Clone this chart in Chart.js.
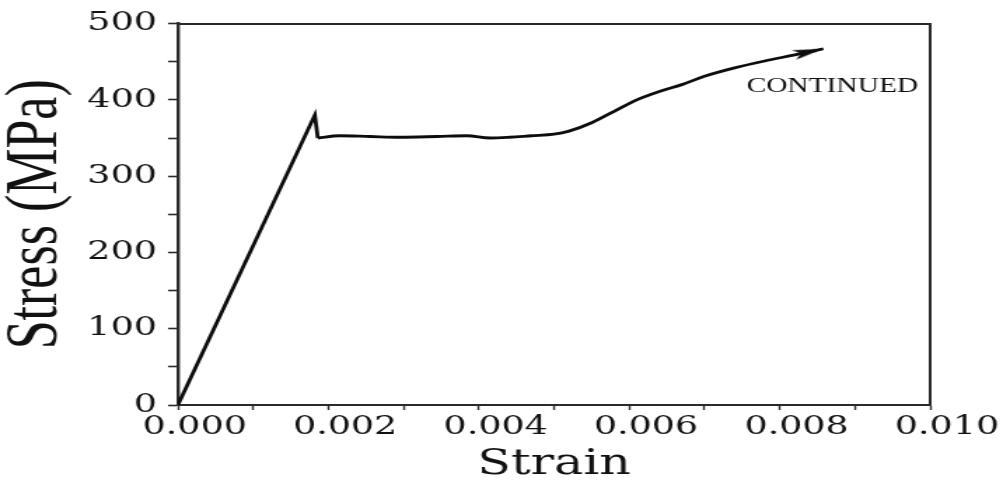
<!DOCTYPE html>
<html>
<head>
<meta charset="utf-8">
<title>Stress - Strain</title>
<script src="https://cdn.jsdelivr.net/npm/chart.js@4.4.1/dist/chart.umd.min.js"></script>
<style>
	html, body { margin: 0; padding: 0; background: #fff; }
	#stressChart { display: block; }
</style>
</head>
<body>
<canvas id="stressChart" width="716" height="484"></canvas>
<script>
// values
const strain = [0, 0.00182, 0.00186, 0.00215, 0.00255, 0.00295, 0.00345, 0.00384, 0.00415, 0.00441,
	0.0047, 0.0050, 0.0052, 0.0055, 0.0058, 0.0061, 0.0064, 0.0067, 0.0070, 0.0074, 0.0078, 0.0082, 0.00858];
const stress = [0, 380, 350, 353, 352, 351, 352, 353, 350, 351,
	353, 355, 359, 370, 385, 400, 411, 420, 431, 442, 451, 459, 467];
const xTickLabels = ['0.000', '0.002', '0.004', '0.006', '0.008', '0.010'];
const yTickLabels = ['0', '100', '200', '300', '400', '500'];
const noteText = 'CONTINUED';
const noteStrain = 0.0087;
const noteStress = 418;

const axisColor = '#2a2a2a';
const textColor = '#111';
const lineColor = '#0d0d0d';

//the picture is stretched sideways, so draw narrow and widen the canvas after
const fullWidth = 1003;
const fullHeight = 484;

//straight part up to the drop, smooth curve after it
const yieldIndex = 2;
const last = strain.length - 1;

function toPoints(from, to) {
	const pts = [];
	for (let i = from; i <= to; i++) {
		pts.push({ x: strain[i], y: stress[i] });
	}
	return pts;
}

//filled arrow head, tip sits at the centre of the image
function makeArrowHead(len, half) {
	const c = document.createElement('canvas');
	c.width = len * 2;
	c.height = half * 2;
	const g = c.getContext('2d');
	g.fillStyle = lineColor;
	g.beginPath();
	g.moveTo(0, 0);
	g.lineTo(len, half);
	g.lineTo(0, half * 2);
	g.lineTo(len * 0.25, half);
	g.closePath();
	g.fill();
	return c;
}
const arrowHead = makeArrowHead(22, 5);

const notePlugin = {
	id: 'note',
	afterDatasetsDraw(chart) {
		const ctx = chart.ctx;
		ctx.save();
		ctx.font = '21px "Liberation Serif", serif';
		ctx.fillStyle = textColor;
		ctx.textAlign = 'center';
		ctx.textBaseline = 'middle';
		ctx.fillText(noteText, chart.scales.x.getPixelForValue(noteStrain), chart.scales.y.getPixelForValue(noteStress));
		ctx.restore();
	}
};

function createStressChart() {
	const canvas = document.getElementById('stressChart');
	const ctx = canvas.getContext('2d');
	const curve = toPoints(yieldIndex, last);

	new Chart(ctx, {
		type: 'line',
		data: {
			datasets: [
				{
					data: toPoints(0, yieldIndex),
					borderColor: lineColor,
					borderWidth: 2.8,
					fill: false,
					tension: 0,
					pointRadius: 0,
				},
				{
					data: curve,
					borderColor: lineColor,
					borderWidth: 2.8,
					fill: false,
					cubicInterpolationMode: 'monotone',
					pointRadius: curve.map((p, i) => (i === curve.length - 1 ? 10 : 0)),
					pointStyle: curve.map((p, i) => (i === curve.length - 1 ? arrowHead : 'circle')),
					pointRotation: (c) => {
						if (c.dataIndex !== curve.length - 1) return 0;
						const sx = c.chart.scales.x;
						const sy = c.chart.scales.y;
						const dx = sx.getPixelForValue(strain[last]) - sx.getPixelForValue(strain[last - 1]);
						const dy = sy.getPixelForValue(stress[last]) - sy.getPixelForValue(stress[last - 1]);
						return Math.atan2(dy, dx) * 180 / Math.PI;
					},
				},
			],
		},
		options: {
			responsive: false,
			animation: false,
			layout: {
				padding: { left: 0, right: 52, top: 16, bottom: 0 },
			},
			plugins: {
				legend: { display: false },
				tooltip: { enabled: false },
			},
			scales: {
				x: {
					type: 'linear',
					position: 'bottom',
					min: 0,
					max: 0.01,
					grid: {
						drawOnChartArea: false,
						drawTicks: true,
						tickLength: 5,
						tickWidth: 1.4,
						tickColor: axisColor,
					},
					border: { display: true, color: axisColor, width: 2 },
					ticks: {
						stepSize: 0.001,
						autoSkip: false,
						maxRotation: 0,
						padding: 2,
						labelOffset: 12,
						color: textColor,
						font: { family: '"DejaVu Serif", serif', size: 26 },
						callback: (v) => {
							const i = Math.round(v * 1000);
							return i % 2 === 0 ? xTickLabels[i / 2] : '';
						},
					},
					title: {
						display: true,
						text: 'Strain',
						color: textColor,
						font: { family: '"DejaVu Serif", serif', size: 35, lineHeight: 1 },
						padding: { top: 0, bottom: 2 },
					},
					afterFit: (s) => { s.height = 79; },
				},
				y: {
					type: 'linear',
					position: 'left',
					min: 0,
					max: 500,
					grid: {
						drawOnChartArea: false,
						drawTicks: true,
						tickLength: 7,
						tickWidth: 1.6,
						tickColor: axisColor,
					},
					border: { display: true, color: axisColor, width: 2.4 },
					ticks: {
						stepSize: 50,
						autoSkip: false,
						padding: 8,
						color: textColor,
						font: { family: '"DejaVu Serif", serif', size: 26 },
						callback: (v) => {
							const i = Math.round(v / 50);
							return i % 2 === 0 ? yTickLabels[i / 2] : '';
						},
					},
					title: {
						display: true,
						text: 'Stress (MPa)',
						color: textColor,
						font: { family: '"Liberation Serif", serif', size: 52, lineHeight: 1 },
						padding: { top: 0, bottom: 0 },
					},
					afterFit: (s) => { s.width = 127; },
				},
				//top and right edges of the frame
				xTop: {
					type: 'linear',
					position: 'top',
					min: 0,
					max: 0.01,
					grid: { display: false },
					ticks: { display: false },
					border: { display: true, color: axisColor, width: 2 },
					afterFit: (s) => { s.height = 0; },
				},
				yRight: {
					type: 'linear',
					position: 'right',
					min: 0,
					max: 500,
					grid: { display: false },
					ticks: { display: false },
					border: { display: true, color: axisColor, width: 2 },
					afterFit: (s) => { s.width = 0; },
				},
			},
		},
		plugins: [notePlugin],
	});
	canvas.style.width = fullWidth + 'px';
	canvas.style.height = fullHeight + 'px';
}

createStressChart();
</script>
</body>
</html>
